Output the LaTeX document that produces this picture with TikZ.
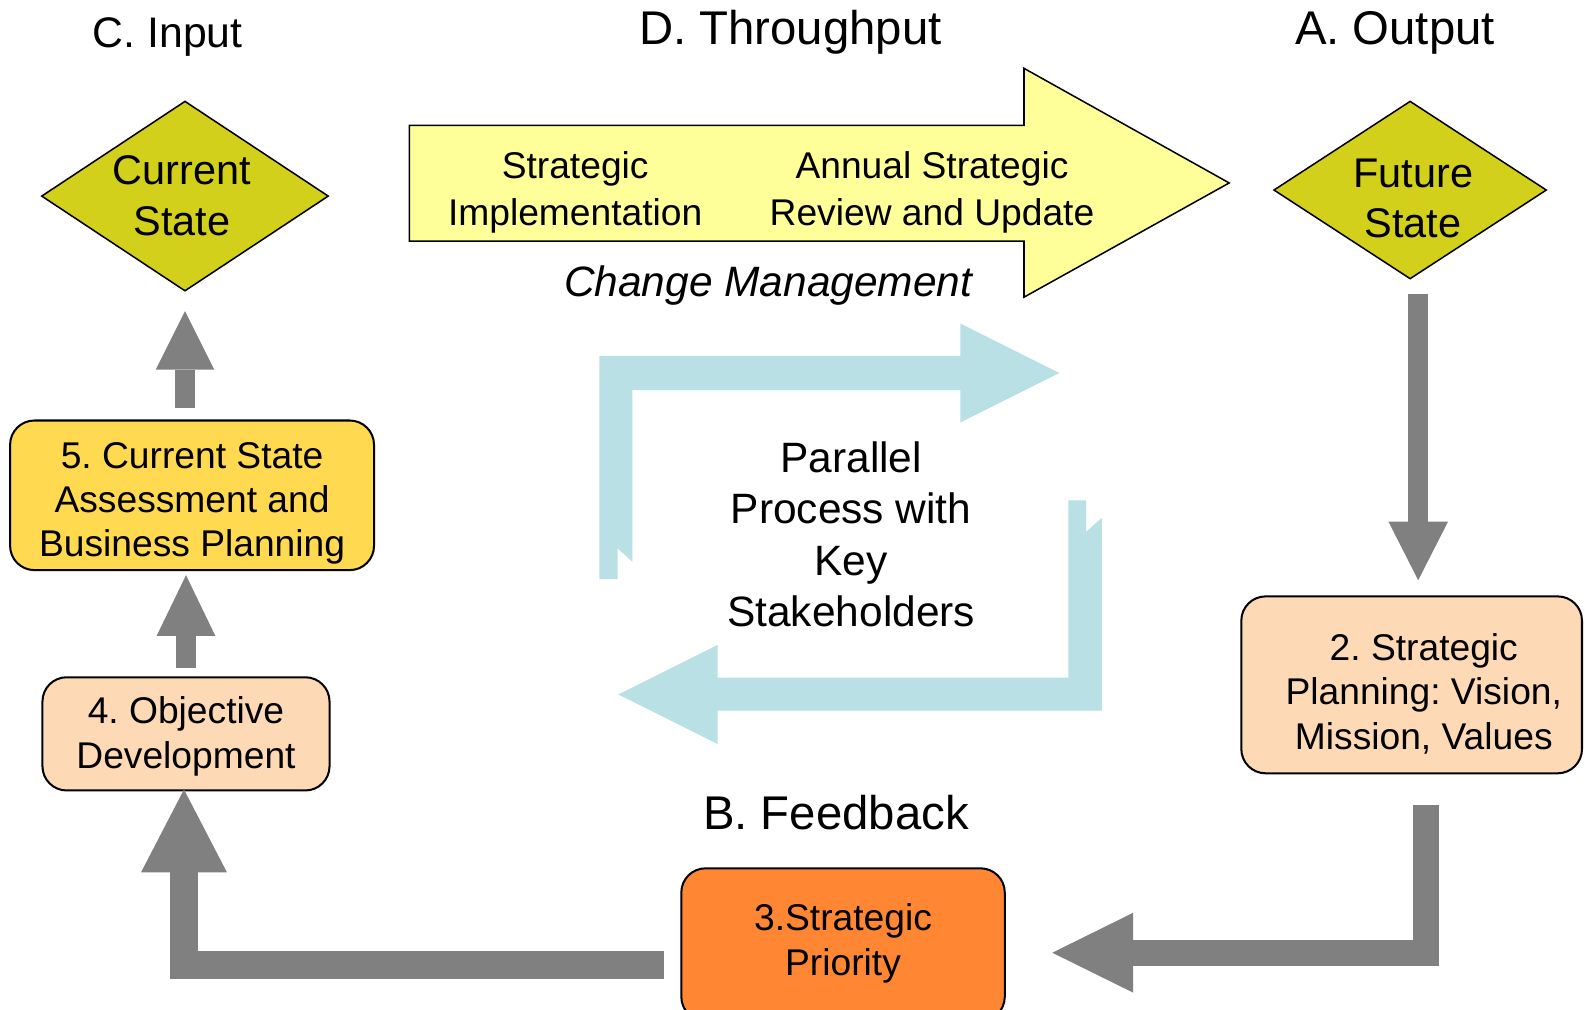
\documentclass[tikz,border=0pt]{standalone}
\usepackage{fontspec}
\setmainfont{Liberation Sans}
\usetikzlibrary{arrows.meta,calc,shapes.geometric}
\frenchspacing
\definecolor{diamondfill}{RGB}{210,208,26}
\definecolor{arrowyellow}{RGB}{255,255,153}
\definecolor{boxgold}{RGB}{255,217,79}
\definecolor{peach}{RGB}{253,218,181}
\definecolor{boxorange}{RGB}{255,135,51}
\definecolor{grayc}{RGB}{128,128,128}
\definecolor{tealc}{RGB}{185,224,228}
\newcommand{\ctext}[2]{\raisebox{0pt}[0pt][#1]{\begin{tabular}[t]{@{}c@{}}#2\end{tabular}}}
\newcommand{\ttext}[1]{\begin{tabular}[t]{@{}c@{}}#1\end{tabular}}
\tikzset{
  procbox/.style={draw=black, line width=1pt, rounded corners=12pt, inner sep=0pt,
    font=\fontsize{18.4}{22}\selectfont},
  statediam/.style={diamond, draw=black, fill=diamondfill, line width=0.75pt, inner sep=0pt,
    shape aspect=1.5, font=\fontsize{20.5}{25}\selectfont},
  titletext/.style={anchor=base, inner sep=0pt, font=\fontsize{23.4}{28}\selectfont},
  graycon/.style={draw=grayc, line join=miter},
  tealshape/.style={fill=tealc},
}
\begin{document}
\frenchspacing
\begin{tikzpicture}[x=0.5pt,y=-0.5pt]
\useasboundingbox (0,0) rectangle (1568,999);

% titles
\node[titletext, font=\fontsize{21.15}{25}\selectfont] (tin) at (166,47) {C. Input};
\node[titletext] (tthr) at (782,44) {D. Throughput};
\node[titletext] (tout) at (1380,44) {A. Output};
\node[titletext] (tfb) at (827,821) {B. Feedback};

% big yellow arrow
\draw[fill=arrowyellow, draw=black, line width=0.75pt, line join=miter]
  (405,124) -- (1013,124) -- (1013,67.6) -- (1216,181) -- (1013,294)
  -- (1013,238.5) -- (405,238.5) -- cycle;
\node[anchor=base, inner sep=0pt, font=\fontsize{18.4}{23}\selectfont] (simp) at (569,177)
  {\ttext{Strategic\\Implementation}};
\node[anchor=base, inner sep=0pt, font=\fontsize{18.4}{23}\selectfont] (asr) at (922,177)
  {\ttext{Annual Strategic\\Review and Update}};
\node[anchor=base, inner sep=0pt, font=\fontsize{21}{25}\selectfont\itshape] (chg) at (760,293)
  {Change Management};

% teal arrows
\fill[tealshape] (593,573) -- (593,352) -- (950,352) -- (950,320) -- (1048,369)
  -- (950,418) -- (950,386) -- (625.6,386) -- (625.6,555.8) -- (611,542.5)
  -- (611,573) -- cycle;
\fill[tealshape] (1090,512.3) -- (1090,703) -- (710,703) -- (710,736) -- (611.7,687)
  -- (710,638) -- (710,670.4) -- (1057,670.4) -- (1057,495) -- (1074.5,495)
  -- (1074.5,526) -- cycle;
\node[anchor=base, inner sep=0pt, font=\fontsize{21}{25.5}\selectfont] (par) at (842,467)
  {\ttext{Parallel\\Process with\\Key\\Stakeholders}};

% states
\node[statediam, minimum width=142pt, minimum height=94pt] (cs) at (183,194)
  {\ctext{11pt}{Current\\State}\hspace*{3pt}};
\node[statediam, minimum width=135pt, minimum height=88pt] (fs) at (1395,188)
  {\hspace*{3pt}\ctext{3pt}{Future\\State}};

% process boxes
\node[procbox, fill=boxgold, minimum width=180pt, minimum height=74pt] (n5) at (190,490)
  {\ctext{27pt}{5. Current State\\Assessment and\\Business Planning}};
\node[procbox, fill=peach, minimum width=142pt, minimum height=56pt] (n4) at (184,726)
  {\ctext{10pt}{4. Objective\\Development}};
\node[procbox, fill=peach, minimum width=168.5pt, minimum height=87.5pt] (n2) at (1396.5,677.5)
  {\hspace*{12pt}\ctext{24.5pt}{2. Strategic\\Planning: Vision,\\Mission, Values}};
\node[procbox, fill=boxorange, minimum width=160pt, minimum height=75.5pt] (n3) at (834,934.5)
  {\ctext{13.5pt}{3.Strategic\\Priority}};

% gray connectors
\draw[graycon, line width=10pt, -{Triangle[width=29pt,length=29pt,line width=0pt]}]
  ($(cs.south |- n5.north)+(0,5.5pt)$) -- ($(cs.south)+(0,-9.5pt)$);
\draw[graycon, line width=10pt, -{Triangle[width=29pt,length=30pt,line width=0pt]}]
  ($(n4.north)+(0,4pt)$) -- ($(n4.north |- n5.south)+(0,-2pt)$);
\draw[graycon, line width=14pt, -{Triangle[width=42.5pt,length=41pt,line width=0pt]}]
  ($(n3.west)+(-8pt,-10pt)$) -| ($(n4.south)+(-1pt,1pt)$);
\draw[graycon, line width=10pt, -{Triangle[width=29.5pt,length=29pt,line width=0pt]}]
  ($(fs.south)+(4pt,-7pt)$) -- ($(fs.south |- n2.north)+(4pt,7.5pt)$);
\draw[graycon, line width=13pt, -{Triangle[width=39.5pt,length=40pt,line width=0pt]}]
  ($(n2.south)+(7.25pt,-15pt)$) |- ($(n3.east)+(23pt,-4pt)$);
\end{tikzpicture}
\end{document}
